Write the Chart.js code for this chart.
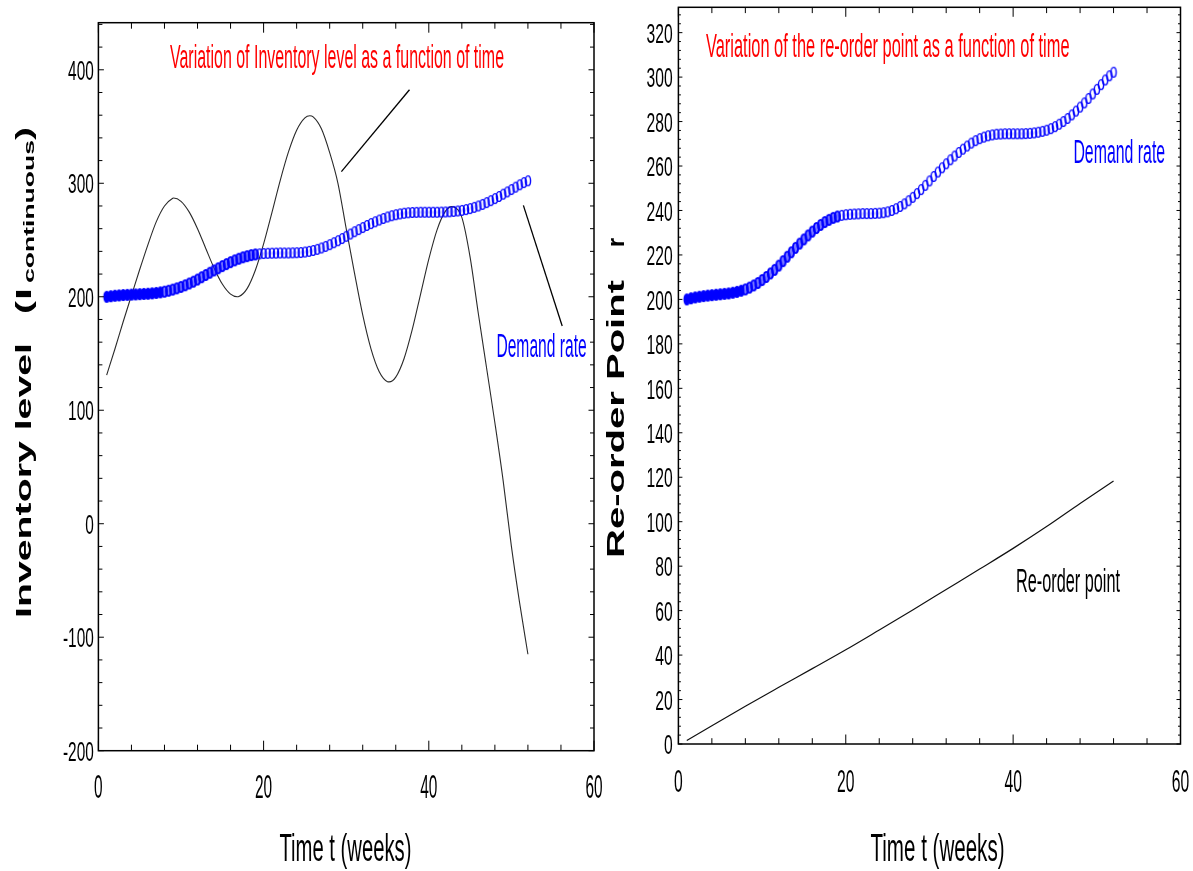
<!DOCTYPE html>
<html>
<head>
<meta charset="utf-8">
<script src="https://cdn.jsdelivr.net/npm/chart.js@4"></script>
<style>
  html, body { margin: 0; padding: 0; background: #ffffff; }
  #wrap { position: relative; width: 1193px; height: 871px; }
  #wrap canvas { position: absolute; left: 0; top: 0; }
</style>
</head>
<body>
<div id="wrap">
  <canvas id="inventoryChart" width="1193" height="871"></canvas>
  <canvas id="reorderChart" width="1193" height="871"></canvas>
</div>
<script>
// ---- data ----
// demand rate, sampled every half week
const demandWeeks = [
  1, 1.5, 2, 2.5, 3, 3.5, 4, 4.5, 5, 5.5, 6, 6.5, 7, 7.5, 8, 8.5, 9, 9.5, 10, 10.5,
  11, 11.5, 12, 12.5, 13, 13.5, 14, 14.5, 15, 15.5, 16, 16.5, 17, 17.5, 18, 18.5, 19, 19.5, 20, 20.5,
  21, 21.5, 22, 22.5, 23, 23.5, 24, 24.5, 25, 25.5, 26, 26.5, 27, 27.5, 28, 28.5, 29, 29.5, 30, 30.5,
  31, 31.5, 32, 32.5, 33, 33.5, 34, 34.5, 35, 35.5, 36, 36.5, 37, 37.5, 38, 38.5, 39, 39.5, 40, 40.5,
  41, 41.5, 42, 42.5, 43, 43.5, 44, 44.5, 45, 45.5, 46, 46.5, 47, 47.5, 48, 48.5, 49, 49.5, 50, 50.5,
  51, 51.5, 52
];
const demandRate = [
  200.0, 200.5, 200.9, 201.2, 201.5, 201.7, 201.9, 202.1, 202.3, 202.5, 202.7, 203.0, 203.4, 203.9, 204.5, 205.3, 206.3, 207.4, 208.7, 210.1,
  211.7, 213.3, 215.2, 217.2, 219.2, 221.2, 223.2, 225.1, 227.0, 228.8, 230.5, 232.1, 233.5, 234.8, 235.8, 236.7, 237.3, 237.8, 238.1, 238.3,
  238.4, 238.5, 238.6, 238.6, 238.6, 238.7, 238.8, 239.0, 239.4, 240.0, 240.8, 241.8, 243.0, 244.4, 245.9, 247.6, 249.4, 251.3, 253.3, 255.3,
  257.3, 259.2, 261.0, 262.8, 264.5, 266.1, 267.6, 269.0, 270.3, 271.4, 272.3, 273.0, 273.6, 274.0, 274.3, 274.4, 274.5, 274.5, 274.5, 274.5,
  274.5, 274.6, 274.7, 274.9, 275.2, 275.6, 276.1, 276.8, 277.7, 278.8, 280.0, 281.4, 283.0, 284.7, 286.5, 288.4, 290.4, 292.4, 294.5, 296.6,
  298.7, 300.6, 302.2
];

// continuous inventory level
const inventoryWeeks = [
  1, 2, 3, 4, 5, 6, 7, 8, 9, 9.1, 10, 11, 12, 13, 14, 15, 16, 16.8, 17, 18, 19, 20, 21, 22, 23, 24, 25, 25.6,
  26, 27, 28, 29, 30, 31, 32, 33, 34, 35, 35.2, 36, 37, 38, 39, 40, 41, 42, 42.8, 43, 44, 45, 46, 47, 48, 49,
  50, 51, 52
];
const inventoryLevel = [
  131, 154, 178, 201, 224, 246, 266, 280, 286.8, 287, 284.1, 274.6, 260, 242.6, 225.4, 211.2, 202.3, 200, 200.2,
  207.2, 223.4, 246.6, 274, 302.2, 327.4, 346.8, 357.7, 359.5,
  358.5, 348, 327, 300, 260, 221, 184, 154.1, 133.9, 125.2, 125, 129.2, 145.4, 171.2, 202.2, 233.2, 259, 275.2, 279.4,
  279.2, 270, 235, 185, 137, 89, 38, -20, -70, -115
];

// re-order point
const reorderWeeks = [1, 4, 8, 12, 16, 20, 24, 28, 32, 36, 40, 44, 48, 52];
const reorderPoint = [1.6, 8.2, 17.0, 25.5, 33.9, 42.4, 51.3, 60.3, 69.5, 78.7, 88.0, 97.8, 108.2, 118.3];

// axis ticks
const weekTicks = [0, 20, 40, 60];
const weekTickLabels = ['0', '20', '40', '60'];
const inventoryTicks = [-200, -100, 0, 100, 200, 300, 400];
const inventoryTickLabels = ['-200', '-100', '0', '100', '200', '300', '400'];
const reorderTicks = [0, 20, 40, 60, 80, 100, 120, 140, 160, 180, 200, 220, 240, 260, 280, 300, 320];
const reorderTickLabels = ['0', '20', '40', '60', '80', '100', '120', '140', '160', '180', '200', '220', '240', '260', '280', '300', '320'];

// ---- drawing helpers ----
const BLUE = '#0000ff';
const RED = '#ff0000';
const FONT = '"Liberation Sans", Arial, Helvetica, sans-serif';

// text squeezed / stretched along its reading direction
function fitText(ctx, text, o) {
  ctx.save();
  ctx.font = (o.weight || 'normal') + ' ' + o.size + 'px ' + FONT;
  ctx.fillStyle = o.color || '#000';
  ctx.textBaseline = 'alphabetic';
  ctx.textAlign = 'left';
  const w = ctx.measureText(text).width;
  const s = o.width ? o.width / w : (o.hscale || 1);
  ctx.translate(o.x, o.y);
  if (o.rotate) ctx.rotate(-Math.PI / 2);
  ctx.scale(s, 1);
  let dx = 0;
  if (o.align === 'center') dx = -w / 2;
  else if (o.align === 'right') dx = -w;
  ctx.fillText(text, dx, 0);
  ctx.restore();
}

// tall narrow ring used as the demand marker
function ringStamp(rx, ry, lw, fill) {
  const c = document.createElement('canvas');
  c.width = Math.ceil(2 * rx + lw + 3);
  c.height = Math.ceil(2 * ry + lw + 3);
  const g = c.getContext('2d');
  g.beginPath();
  g.ellipse(c.width / 2, c.height / 2, rx, ry, 0, 0, Math.PI * 2);
  if (fill) { g.fillStyle = fill; g.fill(); }
  g.lineWidth = lw;
  g.strokeStyle = BLUE;
  g.stroke();
  return c;
}
const ringDense = ringStamp(2.7, 5.4, 1.4, BLUE);
const ringMid = ringStamp(2.6, 5.1, 1.9, 'rgba(30,30,255,0.6)');
const ringOpen = ringStamp(2.6, 4.9, 1.4, null);
function demandMarker(c) {
  const t = c.raw ? c.raw.x : 0;
  if (t < 8) return ringDense;
  if (t < 19.5) return ringMid;
  return ringOpen;
}

function toPoints(xs, ys) { return xs.map((x, i) => ({ x: x, y: ys[i] })); }

// box frame with inward ticks, tick labels and free text
function decor(spec) {
  return {
    id: 'decor',
    afterDraw(chart) {
      const ctx = chart.ctx;
      const a = chart.chartArea;
      const xs = chart.scales.x;
      const ys = chart.scales.y;
      ctx.save();
      ctx.strokeStyle = '#000';
      ctx.lineWidth = 1;
      ctx.beginPath();
      for (let k = 0; ; k++) {
        const v = xs.min + k * spec.xMinorStep;
        if (v > xs.max + 1e-9) break;
        const px = xs.getPixelForValue(v);
        const len = weekTicks.includes(v) ? spec.xMajorLen : spec.xMinorLen;
        ctx.moveTo(px, a.bottom); ctx.lineTo(px, a.bottom - len);
        ctx.moveTo(px, a.top); ctx.lineTo(px, a.top + len);
      }
      for (let k = 0; ; k++) {
        const v = ys.min + k * spec.yMinorStep;
        if (v > ys.max + 1e-9) break;
        const py = ys.getPixelForValue(v);
        const len = spec.yMajor.includes(v) ? spec.yMajorLen : spec.yMinorLen;
        ctx.moveTo(a.left, py); ctx.lineTo(a.left + len, py);
        ctx.moveTo(a.right, py); ctx.lineTo(a.right - len, py);
      }
      ctx.stroke();
      ctx.lineWidth = 1.5;
      ctx.strokeRect(a.left, a.top, a.right - a.left, a.bottom - a.top);

      spec.yMajor.forEach((v, i) => {
        const py = ys.getPixelForValue(v);
        fitText(ctx, spec.yLabels[i], { x: a.left - spec.yLabelGap, y: py + spec.yLabelShift, size: spec.yLabelSize, hscale: spec.yLabelScale, align: 'right' });
      });
      weekTicks.forEach((v, i) => {
        const px = xs.getPixelForValue(v);
        fitText(ctx, weekTickLabels[i], { x: px, y: spec.xLabelBaseline, size: spec.xLabelSize, hscale: spec.xLabelScale, align: 'center' });
      });
      spec.extra(ctx, chart);
      ctx.restore();
    }
  };
}

function segment(ctx, chart, p, q) {
  const xs = chart.scales.x, ys = chart.scales.y;
  ctx.save();
  ctx.strokeStyle = '#000';
  ctx.lineWidth = 1.3;
  ctx.beginPath();
  ctx.moveTo(xs.getPixelForValue(p[0]), ys.getPixelForValue(p[1]));
  ctx.lineTo(xs.getPixelForValue(q[0]), ys.getPixelForValue(q[1]));
  ctx.stroke();
  ctx.restore();
}

const baseOptions = {
  responsive: false,
  animation: false,
  devicePixelRatio: 1,
  events: [],
  plugins: { legend: { display: false }, tooltip: { enabled: false } }
};

// ---- left: inventory level ----
new Chart(document.getElementById('inventoryChart'), {
  type: 'scatter',
  data: {
    datasets: [
      {
        data: toPoints(demandWeeks, demandRate),
        showLine: false,
        pointStyle: demandMarker,
        pointRadius: 5,
        order: 1
      },
      {
        data: toPoints(inventoryWeeks, inventoryLevel),
        showLine: true,
        borderColor: '#2a2a2a',
        borderWidth: 1.1,
        pointRadius: 0,
        cubicInterpolationMode: 'monotone',
        order: 2
      }
    ]
  },
  options: Object.assign({}, baseOptions, {
    layout: { padding: { left: 98.4, right: 1193 - 594, top: 22.7, bottom: 871 - 750.7 } },
    scales: {
      x: { type: 'linear', min: 0, max: 60, display: false },
      y: { type: 'linear', min: -200, max: 441.5, display: false }
    }
  }),
  plugins: [decor({
    xMinorStep: 4, xMajorLen: 10, xMinorLen: 6,
    yMinorStep: 20, yMajor: inventoryTicks, yLabels: inventoryTickLabels, yMajorLen: 5.5, yMinorLen: 4,
    yLabelGap: 4.6, yLabelShift: 10, yLabelSize: 28, yLabelScale: 0.55,
    xLabelBaseline: 798, xLabelSize: 33.5, xLabelScale: 0.46,
    extra(ctx, chart) {
      fitText(ctx, 'Variation of Inventory level as a function of time', { x: 170, y: 68.3, size: 32.5, width: 334, color: RED });
      fitText(ctx, 'Demand rate', { x: 496.4, y: 356.7, size: 32.5, width: 90.3, color: BLUE });
      fitText(ctx, 'Time t (weeks)', { x: 279.4, y: 861, size: 39, width: 132 });
      fitText(ctx, 'Inventory level', { x: 31.4, y: 618, size: 22, width: 275, rotate: true, weight: 'bold' });
      fitText(ctx, '(', { x: 31.4, y: 314, size: 22, width: 13, rotate: true, weight: 'bold' });
      fitText(ctx, 'I', { x: 31.4, y: 300, size: 22, width: 12, rotate: true, weight: 'bold' });
      fitText(ctx, 'continuous', { x: 33.7, y: 283, size: 15.5, width: 143, rotate: true, weight: 'bold' });
      fitText(ctx, ')', { x: 31.4, y: 140, size: 22, width: 13, rotate: true, weight: 'bold' });
      segment(ctx, chart, [37.66, 382.4], [29.42, 310.3]);
      segment(ctx, chart, [51.45, 280.5], [56.15, 174.3]);
    }
  })]
});

// ---- right: re-order point ----
new Chart(document.getElementById('reorderChart'), {
  type: 'scatter',
  data: {
    datasets: [
      {
        data: toPoints(demandWeeks, demandRate),
        showLine: false,
        pointStyle: demandMarker,
        pointRadius: 5,
        order: 1
      },
      {
        data: toPoints(reorderWeeks, reorderPoint),
        showLine: true,
        borderColor: '#111111',
        borderWidth: 1.2,
        pointRadius: 0,
        cubicInterpolationMode: 'monotone',
        order: 2
      }
    ]
  },
  options: Object.assign({}, baseOptions, {
    layout: { padding: { left: 678.4, right: 1193 - 1180.5, top: 7.3, bottom: 871 - 744 } },
    scales: {
      x: { type: 'linear', min: 0, max: 60, display: false },
      y: { type: 'linear', min: 0, max: 331.4, display: false }
    }
  }),
  plugins: [decor({
    xMinorStep: 4, xMajorLen: 9.5, xMinorLen: 5.8,
    yMinorStep: 4, yMajor: reorderTicks, yLabels: reorderTickLabels, yMajorLen: 4, yMinorLen: 2.5,
    yLabelGap: 5.7, yLabelShift: 10.2, yLabelSize: 28.5, yLabelScale: 0.55,
    xLabelBaseline: 791.7, xLabelSize: 31.4, xLabelScale: 0.5,
    extra(ctx, chart) {
      fitText(ctx, 'Variation of the re-order point as a function of time', { x: 706, y: 56.7, size: 32.5, width: 363.5, color: RED });
      fitText(ctx, 'Demand rate', { x: 1073.4, y: 163.3, size: 32.5, width: 91.8, color: BLUE });
      fitText(ctx, 'Re-order point', { x: 1016, y: 591.7, size: 32.5, width: 104 });
      fitText(ctx, 'Time t (weeks)', { x: 870.5, y: 861, size: 39, width: 134 });
      fitText(ctx, 'Re-order Point', { x: 623.7, y: 558, size: 24, width: 278, rotate: true, weight: 'bold' });
      fitText(ctx, 'r', { x: 623.7, y: 247, size: 24, width: 9, rotate: true, weight: 'bold' });
    }
  })]
});
</script>
</body>
</html>
